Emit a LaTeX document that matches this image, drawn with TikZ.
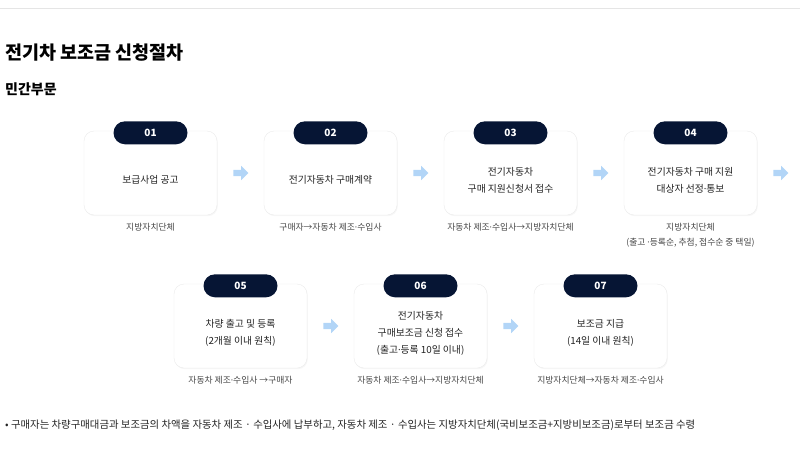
\documentclass[tikz,border=0pt]{standalone}
\usepackage{fontspec}
\setmainfont{Noto Sans CJK KR}
\newfontfamily\latinfont{Noto Sans}
\newcommand{\md}{{\latinfont ·}}
\usetikzlibrary{positioning,shapes.arrows,shadows}
\usepackage{xcolor}
\definecolor{mynavy}{RGB}{6,21,52}
\definecolor{myarrow}{RGB}{178,213,247}
\definecolor{mytext}{RGB}{35,35,35}
\definecolor{mycap}{RGB}{70,70,70}

\begin{document}
\begin{tikzpicture}[x=1pt,y=-1pt,node distance=180pt]
  \tikzstyle{card}=[draw=black!8,fill=white,rounded corners=10pt,minimum width=133pt,minimum height=84pt,
    drop shadow={opacity=0.07,shadow xshift=0.8pt,shadow yshift=-1.2pt}]
  \tikzstyle{badge}=[fill=mynavy,text=white,rounded corners=11.5pt,minimum width=74pt,minimum height=23pt,
    inner sep=0pt,font=\fontsize{10}{12}\selectfont\bfseries]
  \tikzstyle{cardtext}=[align=center,text=mytext,font=\fontsize{9.8}{17}\selectfont]
  \tikzstyle{caption}=[align=center,text=mycap,font=\fontsize{8.8}{15}\selectfont]
  \tikzstyle{nextarrow}=[single arrow,fill=myarrow,draw=none,inner sep=3pt,minimum height=15pt,
    single arrow head extend=4pt]
  \useasboundingbox (0,0) rectangle (800,450);

  \draw[black!10] (0,8) -- (800,8);
  \node[anchor=west,inner sep=0pt,text=black,font=\fontsize{18.5}{22}\selectfont\bfseries] (H) at (5,53) {전기차 보조금 신청절차};
  \node[anchor=west,inner sep=0pt,text=black,font=\fontsize{14}{17}\selectfont\bfseries] (S) at (5,89) {민간부문};

  % first row
  \node[card] (B1) at (150.5,173) {};
  \node[card] (B2) [right of=B1] {};
  \node[card] (B3) [right of=B2] {};
  \node[card] (B4) [right of=B3] {};
  % second row
  \node[card] (B5) at (240.5,326) {};
  \node[card] (B6) [right of=B5] {};
  \node[card] (B7) [right of=B6] {};

  \foreach \n/\num in {1/01,2/02,3/03,4/04,5/05,6/06,7/07}
    \node[badge] (N\n) at ([yshift=-2pt]B\n.north) {\num};

  \node[cardtext] (T1) at ([yshift=-7pt]B1.center) {보급사업 공고};
  \node[cardtext] (T2) at ([yshift=-7pt]B2.center) {전기자동차 구매계약};
  \node[cardtext] (T3) at ([yshift=-7pt]B3.center) {전기자동차\\구매 지원신청서 접수};
  \node[cardtext] (T4) at ([yshift=-7pt]B4.center) {전기자동차 구매 지원\\대상자 선정\md 통보};
  \node[cardtext] (T5) at ([yshift=-7pt]B5.center) {차량 출고 및 등록\\(2개월 이내 원칙)};
  \node[cardtext] (T6) at ([yshift=-7pt]B6.center) {전기자동차\\구매보조금 신청 접수\\(출고\md 등록 10일 이내)};
  \node[cardtext] (T7) at ([yshift=-7pt]B7.center) {보조금 지급\\(14일 이내 원칙)};

  \node[caption] (C1) [below=4pt of B1] {지방자치단체};
  \node[caption] (C2) [below=4pt of B2] {구매자→자동차 제조\md 수입사};
  \node[caption] (C3) [below=4pt of B3] {자동차 제조\md 수입사→지방자치단체};
  \node[caption] (C4) [below=4pt of B4] {지방자치단체\\(출고 \md 등록순, 추첨, 접수순 중 택일)};
  \node[caption] (C5) [below=4pt of B5] {자동차 제조\md 수입사 →구매자};
  \node[caption] (C6) [below=4pt of B6] {자동차 제조\md 수입사→지방자치단체};
  \node[caption] (C7) [below=4pt of B7] {지방자치단체→자동차 제조\md 수입사};

  \foreach \n in {1,2,3,4,5,6}
    \node[nextarrow] (A\n) [right=16pt of B\n] {};

  \node[anchor=west,inner sep=0pt,text=mytext,font=\fontsize{10.4}{12}\selectfont] (F) at (5,425)
    {• 구매자는 차량구매대금과 보조금의 차액을 자동차 제조 · 수입사에 납부하고, 자동차 제조 · 수입사는 지방자치단체(국비보조금+지방비보조금)로부터 보조금 수령};
\end{tikzpicture}
\end{document}
